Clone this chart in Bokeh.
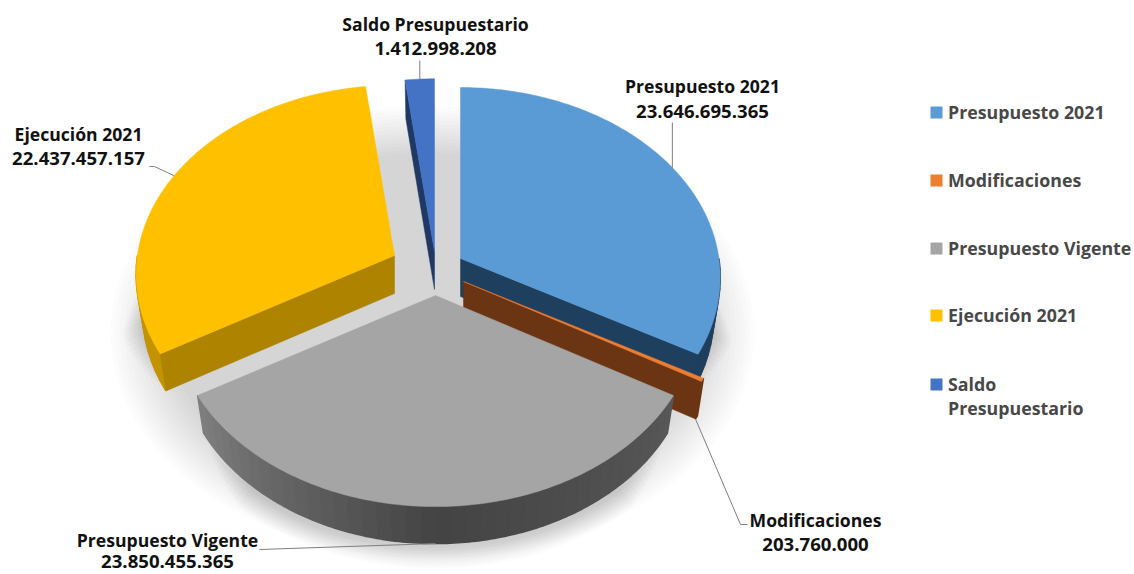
import numpy as np
from bokeh.plotting import figure
from bokeh.models import Range1d
from bokeh.core.properties import value
from bokeh.embed import file_html
from bokeh.resources import INLINE

# --- data ---
categories = ["Presupuesto 2021", "Modificaciones", "Presupuesto Vigente", "Ejecución 2021", "Saldo Presupuestario"]
amounts = [23646695365, 203760000, 23850455365, 22437457157, 1412998208]
amount_labels = ["23.646.695.365", "203.760.000", "23.850.455.365", "22.437.457.157", "1.412.998.208"]
legend_lines = [["Presupuesto 2021"], ["Modificaciones"], ["Presupuesto Vigente"], ["Ejecución 2021"], ["Saldo", "Presupuestario"]]

# --- style / layout ---
top_colors = ["#5b9bd5", "#ed7d31", "#a5a5a5", "#ffc000", "#4472c4"]
side_colors = ["#1f3f5e", "#6b3514", "#5a5a5a", "#ad8300", "#1f3864"]
apex = [(460, 258), (463, 281), (435, 295), (394, 255), (434, 251)]
slice_scale = [0.99, 1.0, 1.0, 0.985, 1.0]
label_pos = [(702, 85), (815, 519), (167, 539), (78, 133), (435, 23)]
amount_pos = [(702, 110.5), (815, 544), (167, 561), (78, 158), (435, 47.5)]
legend_y = [111, 179, 247, 314, 383]
RX, RY, PERSP, DEPTH, SHRINK = 261, 190, 0.1, 38, 0.975
W, H = 1134, 574
FONT = "Open Sans"

p = figure(width=W, height=H, output_backend="svg", toolbar_location=None,
           x_range=Range1d(0, W), y_range=Range1d(H, 0),
           x_axis_type=None, y_axis_type=None, min_border=0, outline_line_color=None,
           background_fill_color="white", border_fill_color="white")
p.grid.visible = False


def rim(i, deg, lower=False, grow=1.0, drop=0.0):
    """Project an angle (clockwise from the back) onto the tilted disc of slice i."""
    t = np.radians(deg)
    s = 1 / (1 + PERSP * np.cos(t)) * slice_scale[i] * grow
    k = SHRINK if lower else 1.0
    ax, ay = apex[i]
    return ax + RX * np.sin(t) * s * k, ay - RY * np.cos(t) * s * k + (DEPTH * s if lower else 0) + drop


total = sum(amounts)
sweeps = [a / total * 360 for a in amounts]
starts = np.concatenate([[0], np.cumsum(sweeps)[:-1]])
ends = starts + np.array(sweeps)


def mix(c1, c2, f):
    a = [int(c1[j:j + 2], 16) for j in (1, 3, 5)]
    b = [int(c2[j:j + 2], 16) for j in (1, 3, 5)]
    return "#%02x%02x%02x" % tuple(int(round(u + (v - u) * f)) for u, v in zip(a, b))


def wall_color(i, deg):
    if i == 2:
        if deg < 180:
            return mix("#585858", "#434343", (deg - starts[i]) / (180 - starts[i]))
        return mix("#434343", "#808080", (deg - 180) / (ends[i] - 180))
    if i == 3:
        return mix("#c49400", "#bb8e00", (deg - starts[i]) / sweeps[i])
    return side_colors[i]


# soft shadow under the pie
for n in range(14):
    f = n / 13
    p.ellipse(x=[432], y=[332], width=[2 * (322 - 60 * f)], height=[2 * (226 - 46 * f)],
              fill_color="#000000", fill_alpha=0.012, line_color=None)
# tighter contact shadow on the outer, front side of the raised slices; ends taper off
shadow_arcs = {0: (85, ends[0] - 2), 2: (starts[2] + 2, ends[2] - 2), 3: (starts[3] + 2, 278)}
for i, (a0, a1) in shadow_arcs.items():
    for grow in np.linspace(1.08, 1.005, 12):
        taper = (grow - 1) / 0.08 * 16
        arc = np.linspace(a0 + taper, a1 - taper, 60)
        outer = [rim(i, d, True, grow, 5) for d in arc]
        inner = [rim(i, d, True, 0.97, 0) for d in arc[::-1]]
        ring = outer + inner
        p.patch([q[0] for q in ring], [q[1] for q in ring], fill_color="#000000", fill_alpha=0.011, line_color=None)

# slices, back to front
radial_edge = {0: "end", 1: "end", 3: "start", 4: "start"}
for i in [4, 0, 3, 1, 2]:
    grid = np.arange(starts[i], ends[i] + 0.01, 3.0)
    grid = np.append(grid[grid < ends[i]], ends[i])
    fine = np.arange(starts[i], ends[i] + 0.01, 1.0)
    fine = np.append(fine[fine < ends[i]], ends[i])
    # outer wall as short faces, front half only
    if i != 4:
        for a, b in zip(grid[:-1], grid[1:]):
            if np.cos(np.radians((a + b) / 2)) > 0.0:
                continue
            sub = np.linspace(a, b, 5)
            top = [rim(i, d) for d in sub]
            low = [rim(i, d, True) for d in sub[::-1]]
            c = wall_color(i, (a + b) / 2)
            p.patch([q[0] for q in top + low], [q[1] for q in top + low], fill_color=c, line_color=c, line_width=1.5)
    # radial wall
    if i in radial_edge:
        deg = ends[i] if radial_edge[i] == "end" else starts[i]
        ax, ay = apex[i]
        xt, yt = rim(i, deg)
        xl, yl = rim(i, deg, True)
        p.patch([ax, xt, xl, ax], [ay, yt, yl, ay + DEPTH], fill_color=side_colors[i], line_color=side_colors[i], line_width=0.5)
    # top surface
    xs, ys = zip(*[rim(i, d) for d in fine])
    p.patch([apex[i][0], *xs], [apex[i][1], *ys], fill_color=top_colors[i], line_color=top_colors[i], line_width=0.5)

# leader lines
mid = (starts + ends) / 2
lead = "#7f7f7f"
x0, y0 = rim(0, mid[0])
p.line([x0, x0], [y0, 122], line_color=lead, line_width=1)
x0, y0 = rim(1, ends[1], True)
p.line([x0, 740, 747], [y0, 524, 524], line_color=lead, line_width=1)
x0, y0 = rim(2, mid[2], True)
p.line([259, x0], [549, y0], line_color=lead, line_width=1)
x0, y0 = rim(3, mid[3])
p.line([149, 154, x0], [166, 166, y0], line_color=lead, line_width=1)
x0, y0 = rim(4, mid[4])
p.line([x0, x0], [60, y0], line_color=lead, line_width=1)

# data labels
for i, (lx, ly) in enumerate(label_pos):
    p.text(x=[lx], y=[ly], text=[categories[i]], text_font=value(FONT), text_font_style="bold",
           text_font_size="17.6px", text_color="#111111", text_align="center", text_baseline="middle")
    ax_, ay_ = amount_pos[i]
    p.text(x=[ax_], y=[ay_], text=[amount_labels[i]], text_font=value(FONT), text_font_style="bold",
           text_font_size="18.6px", text_color="#111111", text_align="center", text_baseline="middle")

# legend
for i, ly in enumerate(legend_y):
    p.rect(x=[936], y=[ly + 1], width=[12], height=[12], fill_color=top_colors[i], line_color=None)
    for j, line in enumerate(legend_lines[i]):
        p.text(x=[947.5], y=[ly + j * 24], text=[line], text_font=value(FONT), text_font_style="bold",
               text_font_size="17.8px", text_color="#484848", text_align="left", text_baseline="middle")

open("out.html", "w").write(file_html(p, INLINE))
